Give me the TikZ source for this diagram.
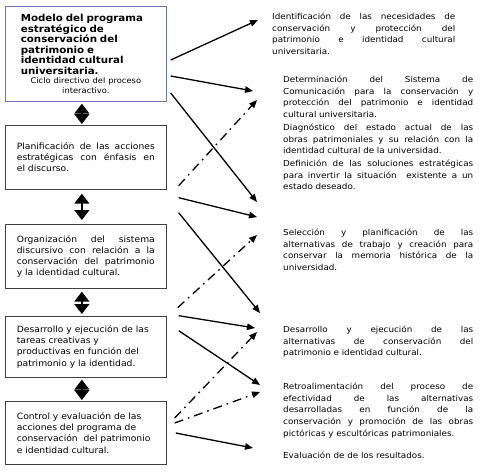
\documentclass[tikz,border=0pt]{standalone}
\usepackage{fontspec}
\setmainfont[FakeStretch=1.07]{DejaVu Sans}
\usetikzlibrary{arrows.meta}
\definecolor{boxblue}{RGB}{112,112,176}
% one justified line of a block
\newcommand{\jl}[1]{\makebox[\hsize][s]{\spaceskip=0pt\xspaceskip=0pt\relax #1}\\}

\begin{document}
\begin{tikzpicture}[x=1pt,y=-1pt,
  box/.style={draw=black!75, line width=0.7pt, anchor=north west, minimum width=161pt,
    inner sep=0pt, text width=138pt, align=left, font=\fontsize{8.6}{11.2}\selectfont},
  txt/.style={anchor=north west, inner sep=0pt, text width=190pt, align=left,
    font=\fontsize{8.2}{11.6}\selectfont},
  arr/.style={line width=1.3pt, -{Triangle[length=8pt,width=6.5pt]}},
  dashdot/.style={arr, dash pattern=on 9pt off 5pt on 1.6pt off 5pt},
  both/.style={line width=1.6pt, {Triangle[length=10pt,width=15pt]}-{Triangle[length=10pt,width=15pt]}}]
\useasboundingbox (0,0) rectangle (480,474);
% left column
\node[box, draw=boxblue, minimum height=95pt, text width=130pt] (b1) at (5,6)
  {{\fontsize{9.6}{10.6}\selectfont\bfseries Modelo del programa\\ estratégico de\\
  conservación del\\ patrimonio e\\ identidad cultural\\ universitaria.\par}
  {\centering\fontsize{7.8}{9.4}\selectfont Ciclo directivo del proceso\\ interactivo.\par}};
\node[box, minimum height=64pt] (b2) at (5,125)
  {\jl{Planificación de las acciones}\jl{estratégicas con énfasis en}el discurso.};
\node[box, minimum height=64pt] (b3) at (5,224)
  {\jl{Organización del sistema}\jl{discursivo con relación a la}\jl{conservación del patrimonio}y la identidad cultural.};
\node[box, minimum height=61pt] (b4) at (5,316)
  {Desarrollo y ejecución de las\\ tareas creativas y\\ productivas en función del\\ patrimonio y la identidad.};
\node[box, minimum height=63pt] (b5) at (5,401)
  {Control y evaluación de las\\ acciones del programa de\\ conservación\ \ del patrimonio\\ e identidad cultural.};
% double arrows between the boxes
\draw[both, shorten <=2pt, shorten >=1pt] ([xshift=-4pt]b1.south) -- ([xshift=-4pt]b2.north);
\draw[both, shorten <=4pt, shorten >=4pt] ([xshift=-4pt]b2.south) -- ([xshift=-4pt]b3.north);
\draw[both, shorten <=3pt, shorten >=2pt] ([xshift=-4pt]b3.south) -- ([xshift=-4pt]b4.north);
\draw[both, shorten <=2pt, shorten >=1pt] ([xshift=-4pt]b4.south) -- ([xshift=-4pt]b5.north);
% right column
\node[txt, text width=183pt] (t1) at (272,13)
  {\jl{Identificación de las necesidades de}\jl{conservación y protección del}\jl{patrimonio e identidad cultural}universitaria.};
\node[txt] (t2) at (283,76)
  {\jl{Determinación del Sistema de}\jl{Comunicación para la conservación y}\jl{protección del patrimonio e identidad}cultural universitaria.};
\node[txt] (t3) at (283,124)
  {\jl{Diagnóstico del estado actual de las}\jl{obras patrimoniales y su relación con la}identidad cultural de la universidad.};
\node[txt] (t4) at (283,160)
  {\jl{Definición de las soluciones estratégicas}\jl{para invertir la situación\ \ existente a un}estado deseado.};
\node[txt] (t5) at (283,229)
  {\jl{Selección y planificación de las}\jl{alternativas de trabajo y creación para}\jl{conservar la memoria histórica de la}universidad.};
\node[txt] (t6) at (283,326)
  {\jl{Desarrollo y ejecución de las}\jl{alternativas de conservación del}patrimonio e identidad cultural.};
\node[txt] (t7) at (283,383)
  {\jl{Retroalimentación del proceso de}\jl{efectividad de las alternativas}\jl{desarrolladas en función de la}\jl{conservación y promoción de las obras}pictóricas y escultóricas patrimoniales.};
\node[txt] (t8) at (283,452) {Evaluación de de los resultados.};
% arrow ends
\coordinate (e1) at (258,20);
\coordinate (e2) at (253,91);
\coordinate (e3) at (257,202);
\coordinate (e4) at (257,100);
\coordinate (e5) at (257,217);
\coordinate (e6) at (260,313);
\coordinate (e7) at (257,235);
\coordinate (e8) at (255,328);
\coordinate (e9) at (260,385);
\coordinate (e10) at (257,332);
\coordinate (e11) at (260,392);
\coordinate (e12) at (253,448);
% arrows
\draw[arr] ([shift={(4,54)}]b1.north east) -- (e1);
\draw[arr] ([shift={(4,70)}]b1.north east) -- (e2);
\draw[arr] ([shift={(4,87)}]b1.north east) -- (e3);
\draw[dashdot] ([shift={(12,-4)}]b2.south east) -- (e4);
\draw[arr] ([shift={(12,8)}]b2.south east) -- (e5);
\draw[arr] ([shift={(12,23)}]b2.south east) -- (e6);
\draw[dashdot] ([shift={(11,19)}]b3.south east) -- (e7);
\draw[arr] ([shift={(12,27)}]b3.south east) -- (e8);
\draw[arr] ([shift={(12,42)}]b3.south east) -- (e9);
\draw[dashdot] ([shift={(8,17)}]b5.north east) -- (e10);
\draw[dashdot] ([shift={(8,22)}]b5.north east) -- (e11);
\draw[arr] ([shift={(9,32)}]b5.north east) -- (e12);
\end{tikzpicture}
\end{document}
